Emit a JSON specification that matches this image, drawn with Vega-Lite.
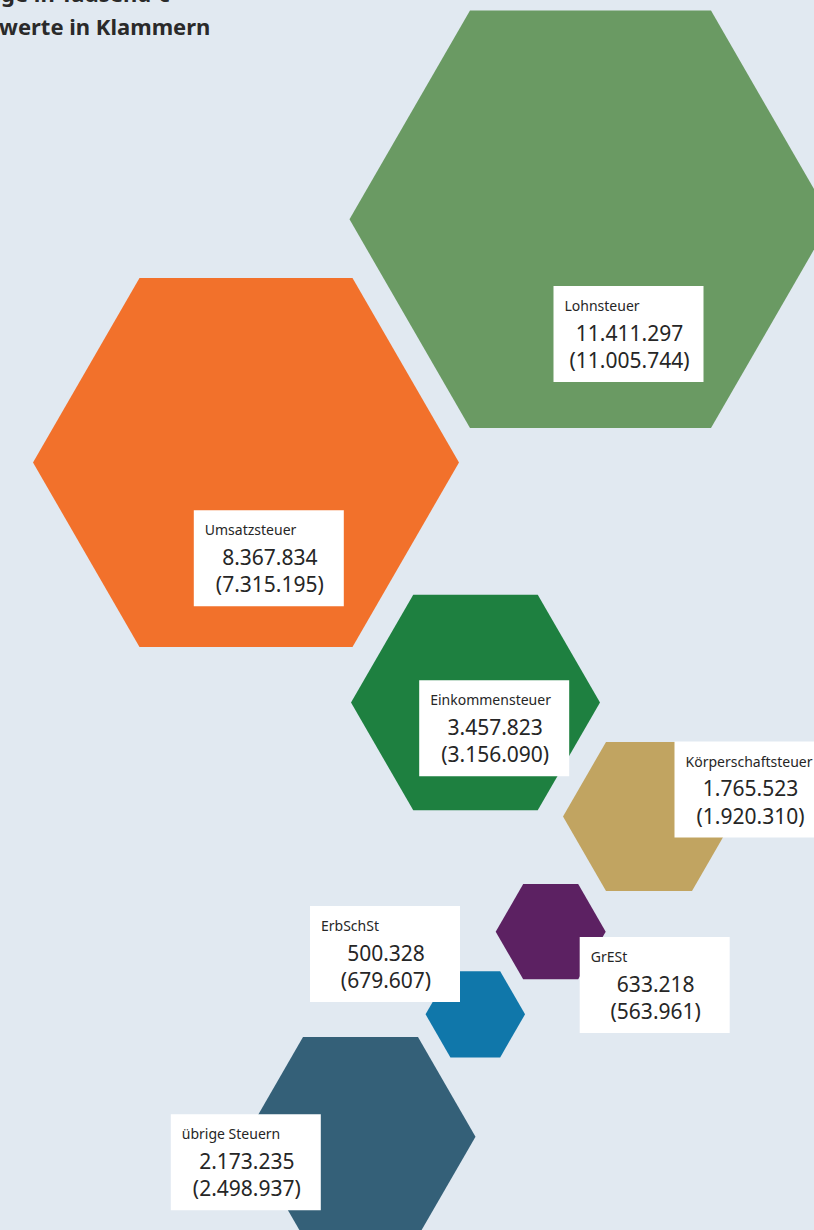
{
  "$schema": "https://vega.github.io/schema/vega-lite/v6.json",
  "width": 814,
  "height": 1230,
  "autosize": {"type": "none"},
  "padding": 0,
  "background": "#e1e9f1",
  "title": {
    "text": ["Alle Beträge in Tausend €", "Vorjahreswerte in Klammern"],
    "anchor": "start",
    "frame": "group",
    "font": "Noto Sans",
    "fontWeight": "bold",
    "fontSize": 22,
    "lineHeight": 33,
    "color": "#2a2a2a",
    "dx": -106,
    "offset": -40
  },
  "config": {
    "view": {"stroke": null},
    "locale": {"number": {"decimal": ",", "thousands": ".", "grouping": [3], "currency": ["(", ")"]}}
  },
  "data": {
    "values": [
      {"name": "Lohnsteuer", "value": 11411297, "prev": 11005744, "hx": 590.5, "hy": 219.3, "bx": 628.5, "by": 334},
      {"name": "Umsatzsteuer", "value": 8367834, "prev": 7315195, "hx": 246, "hy": 462.5, "bx": 268.8, "by": 558.3},
      {"name": "Einkommensteuer", "value": 3457823, "prev": 3156090, "hx": 475.5, "hy": 702.5, "bx": 494.2, "by": 728.3},
      {"name": "Körperschaftsteuer", "value": 1765523, "prev": 1920310, "hx": 649, "hy": 816.5, "bx": 749.5, "by": 789.5},
      {"name": "GrESt", "value": 633218, "prev": 563961, "hx": 550.7, "hy": 931.7, "bx": 654.7, "by": 985},
      {"name": "ErbSchSt", "value": 500328, "prev": 679607, "hx": 475.3, "hy": 1014.3, "bx": 385, "by": 954},
      {"name": "übrige Steuern", "value": 2173235, "prev": 2498937, "hx": 360.5, "hy": 1136.7, "bx": 245.8, "by": 1162.3}
    ]
  },
  "layer": [
    {
      "mark": {
        "type": "point",
        "shape": "M-1,0L-0.5,-0.866L0.5,-0.866L1,0L0.5,0.866L-0.5,0.866Z",
        "filled": true,
        "opacity": 1,
        "strokeWidth": 0
      },
      "encoding": {
        "x": {"field": "hx", "type": "quantitative", "scale": {"domain": [0, 814], "nice": false, "zero": false}, "axis": null},
        "y": {"field": "hy", "type": "quantitative", "scale": {"domain": [0, 1230], "nice": false, "zero": false, "reverse": true}, "axis": null},
        "size": {
          "field": "value",
          "type": "quantitative",
          "scale": {
            "type": "linear",
            "zero": false,
            "domain": [500328, 633218, 1765523, 2173235, 3457823, 8367834, 11411297],
            "range": [9900, 12100, 29584, 52900, 62001, 181476, 232324]
          },
          "legend": null
        },
        "color": {
          "field": "name",
          "type": "nominal",
          "scale": {
            "domain": ["Lohnsteuer", "Umsatzsteuer", "Einkommensteuer", "Körperschaftsteuer", "GrESt", "ErbSchSt", "übrige Steuern"],
            "range": ["#6a9a63", "#f2712b", "#1e8040", "#c1a461", "#5c2162", "#1077aa", "#346078"]
          },
          "legend": null
        }
      }
    },
    {
      "mark": {
        "type": "point",
        "shape": "M-1,-0.64L1,-0.64L1,0.64L-1,0.64Z",
        "filled": true,
        "opacity": 1,
        "strokeWidth": 0,
        "color": "#ffffff",
        "size": 22500
      },
      "encoding": {
        "x": {"field": "bx", "type": "quantitative"},
        "y": {"field": "by", "type": "quantitative"}
      }
    },
    {
      "mark": {"type": "text", "align": "left", "baseline": "alphabetic", "dx": -64, "dy": -23, "font": "Noto Sans", "fontSize": 14, "color": "#262626"},
      "encoding": {
        "x": {"field": "bx", "type": "quantitative"},
        "y": {"field": "by", "type": "quantitative"},
        "text": {"field": "name"}
      }
    },
    {
      "mark": {"type": "text", "align": "center", "baseline": "alphabetic", "dx": 1, "dy": 6.5, "font": "Noto Sans", "fontSize": 21, "color": "#262626"},
      "encoding": {
        "x": {"field": "bx", "type": "quantitative"},
        "y": {"field": "by", "type": "quantitative"},
        "text": {"field": "value", "type": "quantitative", "format": ",d"}
      }
    },
    {
      "mark": {"type": "text", "align": "center", "baseline": "alphabetic", "dx": 1, "dy": 34, "font": "Noto Sans", "fontSize": 21, "color": "#262626"},
      "encoding": {
        "x": {"field": "bx", "type": "quantitative"},
        "y": {"field": "by", "type": "quantitative"},
        "text": {"field": "prev", "type": "quantitative", "format": "$,d"}
      }
    }
  ]
}
